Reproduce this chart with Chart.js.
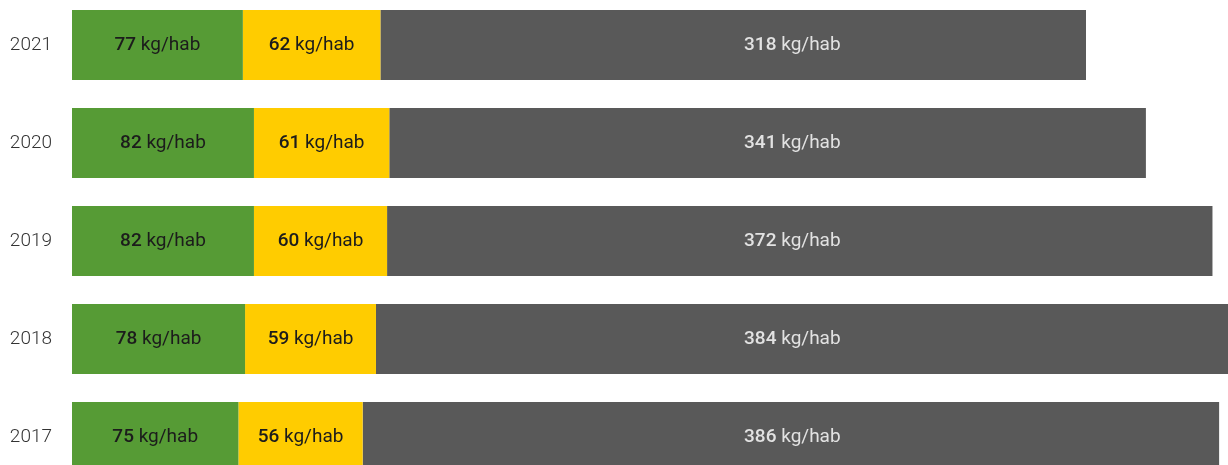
<!DOCTYPE html>
<html>
<head>
    <title>Déchets par habitant</title>
    <script src="https://cdn.jsdelivr.net/npm/chart.js"></script>
    <style>
        html, body {
            margin: 0;
            padding: 0;
            background: #fff;
            overflow: hidden;
            width: 1228px;
            height: 465px;
        }
        #wasteChart {
            position: absolute;
            left: 0;
            top: -4px;
        }
    </style>
</head>
<body>
    <canvas id="wasteChart" width="1228" height="490"></canvas>

    <script>
        // kg per inhabitant, one entry per year
        const years = ['2021', '2020', '2019', '2018', '2017'];
        const recyclables = [77, 82, 82, 78, 75];
        const verre = [62, 61, 60, 59, 56];
        const residuels = [318, 341, 372, 384, 386];
        const unit = 'kg/hab';

        const totals = years.map((_, i) => recyclables[i] + verre[i] + residuels[i]);

        // Write "<value> kg/hab" in each segment, value a bit heavier.
        // Green/yellow labels sit in the middle of their segment; the grey ones
        // share one column, centred on the span all grey bars have in common.
        const segmentLabels = {
            id: 'segmentLabels',
            afterDatasetsDraw(chart) {
                const ctx = chart.ctx;
                const last = chart.data.datasets.length - 1;
                const greyStart = Math.min(...chart.getDatasetMeta(last).data.map(b => b.base));
                const greyCenter = (greyStart + chart.chartArea.right) / 2 - 3;
                ctx.save();
                ctx.textBaseline = 'middle';
                ctx.textAlign = 'left';
                chart.data.datasets.forEach((ds, di) => {
                    const meta = chart.getDatasetMeta(di);
                    meta.data.forEach((bar, i) => {
                        const { x, y, base } = bar.getProps(['x', 'y', 'base'], true);
                        const cx = di === last ? greyCenter : (x + base) / 2;
                        const num = String(ds.data[i]);
                        const fontNum = '500 19px Roboto';
                        const fontUnit = '400 19px Roboto';
                        ctx.font = fontNum;
                        const wNum = ctx.measureText(num + ' ').width;
                        ctx.font = fontUnit;
                        const wUnit = ctx.measureText(unit).width;
                        const left = cx - (wNum + wUnit) / 2;
                        ctx.fillStyle = ds.labelColor;
                        ctx.font = fontNum;
                        ctx.fillText(num, left, y);
                        ctx.font = fontUnit;
                        ctx.fillText(unit, left + wNum, y);
                    });
                });
                ctx.restore();
            }
        };

        const ctx = document.getElementById('wasteChart').getContext('2d');
        new Chart(ctx, {
            type: 'bar',
            data: {
                labels: years,
                datasets: [
                    { data: recyclables, backgroundColor: '#569b35', labelColor: '#1c1c1c' },
                    { data: verre, backgroundColor: '#ffcc00', labelColor: '#1c1c1c' },
                    { data: residuels, backgroundColor: '#595959', labelColor: '#e2e2e2' }
                ]
            },
            options: {
                indexAxis: 'y',
                responsive: false,
                animation: false,
                layout: { padding: 0 },
                datasets: {
                    bar: {
                        categoryPercentage: 1,
                        barPercentage: 0.714,
                        borderWidth: 0
                    }
                },
                scales: {
                    x: {
                        stacked: true,
                        display: false,
                        min: 0,
                        max: Math.max(...totals)
                    },
                    y: {
                        stacked: true,
                        grid: { display: false, drawTicks: false },
                        border: { display: false },
                        afterFit(scale) {
                            scale.width = 72;
                            scale.paddingTop = 0;
                            scale.paddingBottom = 0;
                        },
                        ticks: {
                            padding: 20,
                            color: '#333',
                            font: { family: 'Roboto', size: 19, weight: '300' }
                        }
                    }
                },
                plugins: {
                    legend: { display: false },
                    tooltip: { enabled: false }
                }
            },
            plugins: [segmentLabels]
        });
    </script>
</body>
</html>
